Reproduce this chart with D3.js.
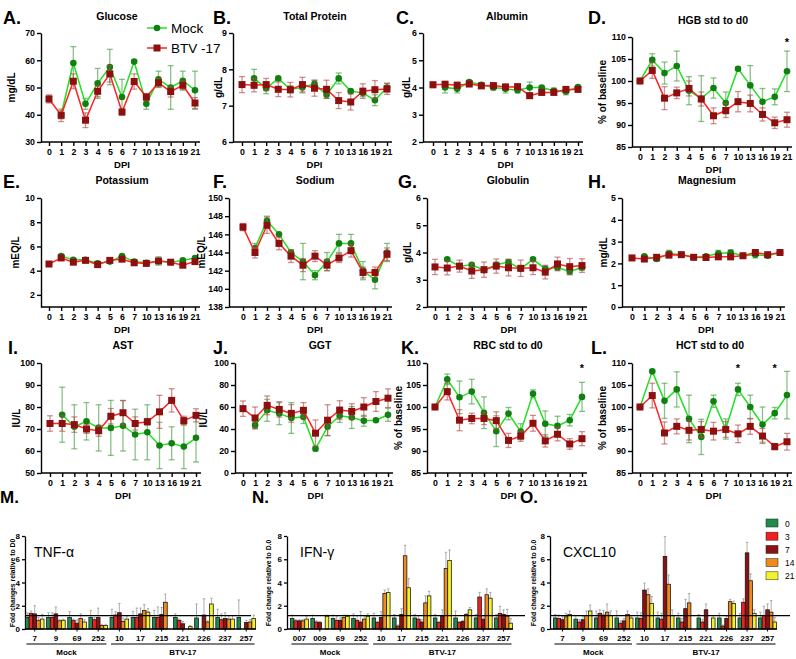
<!DOCTYPE html>
<html>
<head>
<meta charset="utf-8">
<script src="https://cdnjs.cloudflare.com/ajax/libs/d3/7.8.5/d3.min.js"></script>
<style>
body { margin: 0; background: #fff; }
svg text { font-family: "Liberation Sans", Arial, sans-serif; }
</style>
</head>
<body>
<div id="chart"></div>
<script>
// ---- data: blood chemistry, days post infection ----
var days = ["0", "1", "2", "3", "4", "5", "6", "7", "10", "13", "16", "19", "21"];

var glucoseMock = [null, 40.0, 59.0, 44.0, 51.5, 57.5, 46.5, 59.5, 44.0, 53.0, 50.0, 52.5, 49.0];
var glucoseMockErr = [null, 1.5, 6.0, 2.0, 5.5, 6.5, 6.5, 0.5, 2.0, 3.0, 8.0, 3.5, 7.0];
var glucoseBtv = [45.8, 39.8, 52.3, 38.0, 48.6, 55.0, 41.0, 52.2, 46.5, 51.7, 48.5, 50.8, 44.3];
var glucoseBtvErr = [1.5, 2.3, 2.7, 2.7, 2.0, 3.0, 1.0, 2.8, 1.3, 1.5, 2.0, 1.5, 2.0];

var tpMock = [null, 7.75, 7.48, 7.75, 7.45, 7.5, 7.6, 7.3, 7.75, 7.4, 7.35, 7.15, 7.5];
var tpMockErr = [null, 0.25, 0.15, 0.03, 0.1, 0.15, 0.1, 0.1, 0.15, 0.03, 0.1, 0.15, 0.12];
var tpBtv = [7.58, 7.56, 7.58, 7.45, 7.44, 7.58, 7.48, 7.45, 7.14, 7.1, 7.4, 7.44, 7.46];
var tpBtvErr = [0.22, 0.18, 0.17, 0.2, 0.2, 0.2, 0.22, 0.25, 0.22, 0.22, 0.2, 0.25, 0.15];

var albMock = [null, 4.0, 3.95, 4.2, 4.1, 4.0, 3.95, 3.9, 4.0, 4.0, 3.88, 3.85, 4.02];
var albMockErr = [null, 0.2, 0.15, 0.05, 0.05, 0.1, 0.15, 0.1, 0.2, 0.05, 0.1, 0.12, 0.05];
var albBtv = [4.1, 4.12, 4.08, 4.13, 4.06, 4.07, 4.02, 4.03, 3.7, 3.82, 3.82, 3.93, 3.93];
var albBtvErr = [0.1, 0.1, 0.12, 0.1, 0.07, 0.08, 0.1, 0.1, 0.05, 0.1, 0.08, 0.08, 0.08];

var hgbMock = [100, 104.8, 101.8, 103.4, 97.8, 96.0, 98.4, 95.0, 102.8, 99.0, 95.3, 96.4, 102.2];
var hgbMockErr = [0, 1.4, 2.5, 3.4, 3.2, 5.2, 2.3, 2.5, 0.3, 4.5, 3.0, 1.8, 4.6];
var hgbBtv = [100, 102.4, 96.1, 97.3, 98.3, 95.9, 92.1, 93.3, 95.3, 94.9, 92.4, 90.5, 91.2];
var hgbBtvErr = [0, 1.8, 2.6, 1.3, 1.7, 1.6, 1.8, 1.6, 2.3, 1.9, 1.5, 1.3, 1.7];
var hgbStars = ["21"];

var kMock = [null, 5.2, 4.9, 4.9, 4.6, 4.75, 5.2, 4.75, 4.65, 4.8, 4.7, 4.85, 5.05];
var kMockErr = [null, 0.1, 0.1, 0.1, 0.15, 0.1, 0.1, 0.15, 0.05, 0.35, 0.1, 0.1, 0.1];
var kBtv = [4.55, 5.05, 4.7, 4.85, 4.5, 4.85, 4.95, 4.65, 4.6, 4.8, 4.7, 4.45, 4.75];
var kBtvErr = [0.1, 0.15, 0.15, 0.15, 0.15, 0.1, 0.15, 0.15, 0.1, 0.15, 0.1, 0.15, 0.15];

var naMock = [null, 144.5, 147.5, 146.0, 144.0, 143.0, 141.5, 143.0, 145.0, 145.0, 142.0, 141.0, 144.0];
var naMockErr = [null, 0.5, 0.5, 0.1, 0.3, 2.0, 0.5, 1.0, 1.0, 1.0, 1.0, 1.0, 1.0];
var naBtv = [146.8, 144.0, 147.0, 145.0, 143.6, 142.6, 143.6, 142.6, 143.4, 144.2, 141.8, 141.8, 143.8];
var naBtvErr = [0.4, 0.6, 0.9, 0.7, 0.7, 0.7, 0.6, 0.6, 0.5, 0.7, 0.6, 0.6, 0.7];

var globMock = [null, 3.75, 3.5, 3.55, 3.35, 3.55, 3.65, 3.4, 3.75, 3.4, 3.45, 3.3, 3.45];
var globMockErr = [null, 0.05, 0.05, 0.05, 0.05, 0.1, 0.1, 0.05, 0.05, 0.1, 0.1, 0.1, 0.1];
var globBtv = [3.47, 3.43, 3.5, 3.32, 3.37, 3.5, 3.44, 3.42, 3.44, 3.28, 3.58, 3.48, 3.52];
var globBtvErr = [0.28, 0.25, 0.22, 0.27, 0.28, 0.26, 0.3, 0.3, 0.25, 0.25, 0.25, 0.3, 0.25];

var mgMock = [null, 2.32, 2.2, 2.45, 2.4, 2.28, 2.33, 2.45, 2.5, 2.35, 2.4, 2.35, 2.5];
var mgMockErr = [null, 0.05, 0.1, 0.15, 0.08, 0.05, 0.05, 0.15, 0.12, 0.05, 0.15, 0.08, 0.05];
var mgBtv = [2.25, 2.2, 2.28, 2.38, 2.4, 2.28, 2.27, 2.3, 2.3, 2.35, 2.5, 2.4, 2.5];
var mgBtvErr = [0.05, 0.05, 0.1, 0.08, 0.05, 0.05, 0.08, 0.1, 0.1, 0.05, 0.05, 0.05, 0.05];

var astMock = [null, 76.5, 71.0, 73.5, 70.5, 70.5, 71.5, 67.5, 68.5, 62.5, 63.5, 62.0, 66.0];
var astMockErr = [null, 12.5, 10.0, 8.5, 10.5, 12.5, 11.5, 11.5, 12.5, 10.5, 7.5, 10.0, 11.0];
var astBtv = [72.5, 72.5, 72.0, 70.0, 69.2, 75.8, 77.4, 72.5, 73.3, 77.8, 83.0, 73.8, 76.2];
var astBtvErr = [3.5, 3.5, 3.5, 2.0, 2.5, 3.5, 5.5, 3.0, 1.5, 7.5, 5.3, 2.0, 3.0];

var ggtMock = [null, 43.5, 57.0, 54.0, 50.0, 51.0, 22.0, 42.0, 52.0, 50.5, 47.5, 48.0, 53.0];
var ggtMockErr = [null, 3.0, 10.0, 10.0, 14.0, 6.0, 2.0, 8.0, 6.0, 10.0, 5.0, 1.0, 6.0];
var ggtBtv = [58.5, 50.0, 61.5, 57.8, 54.2, 57.0, 36.2, 48.0, 57.2, 56.0, 60.0, 65.0, 68.0];
var ggtBtvErr = [7.0, 10.0, 8.5, 7.0, 8.0, 7.0, 12.0, 14.0, 8.5, 7.0, 8.5, 9.0, 8.5];

var rbcMock = [100, 106.3, 102.2, 103.5, 98.7, 94.5, 98.5, 94.4, 103.0, 96.2, 95.7, 97.0, 102.3];
var rbcMockErr = [0, 1.2, 3.7, 2.8, 3.6, 3.5, 1.4, 1.8, 0.9, 2.9, 2.2, 1.3, 3.3];
var rbcBtv = [100, 103.5, 97.0, 97.4, 97.4, 96.9, 92.4, 93.4, 96.3, 92.3, 93.8, 91.6, 92.8];
var rbcBtvErr = [0, 1.9, 2.4, 1.2, 1.4, 2.0, 1.6, 1.2, 1.8, 1.4, 1.5, 1.2, 1.6];
var rbcStars = ["21"];

var hctMock = [100, 108.1, 101.4, 104.0, 97.3, 93.2, 101.3, 95.0, 104.0, 100.0, 96.0, 98.6, 102.7];
var hctMockErr = [0, 0.3, 4.0, 4.0, 5.4, 4.0, 1.4, 2.3, 1.4, 2.7, 4.0, 1.3, 5.4];
var hctBtv = [100, 102.6, 94.1, 95.6, 94.7, 94.9, 94.5, 94.9, 93.9, 95.6, 93.4, 91.0, 92.1];
var hctBtvErr = [0, 2.8, 2.5, 1.7, 2.2, 1.8, 2.0, 1.8, 2.0, 1.8, 1.7, 0.7, 1.9];
var hctStars = ["10", "19"];

// ---- data: cytokine fold changes per animal, bars = DPI 0,3,7,14,21 ----
var dpiLevels = ["0", "3", "7", "14", "21"];
var animals = ["7", "9", "69", "252", "10", "17", "215", "221", "226", "237", "257"];
var animalsIfn = ["007", "009", "69", "252", "10", "17", "215", "221", "226", "237", "257"];

var tnfVals = [
  [1.0, 1.35, 1.3, 0.75, 0.85], [1.0, 1.0, 1.3, 0.7, 0.75], [1.0, 0.75, 0.5, 0.9, 0.6],
  [1.0, 0.8, 1.0, 0.3, 0.3], [1.0, 1.2, 1.4, 0.65, 0.85], [1.0, 1.0, 1.3, 1.6, 1.45],
  [1.0, 1.0, 1.25, 2.3, null], [1.0, 0.75, 0.45, null, 0.2], [0.95, null, 1.2, 0.6, 2.15],
  [1.0, 0.8, 0.9, 0.85, 0.85], [1.0, null, 0.55, 0.6, 0.9]];
var tnfErr = [
  [0.4, 0.2, 0.7, 0.25, 0.4], [0.4, 0.4, 0.6, 0.1, 0.1], [0.5, 0.1, 0.3, 0.4, 0.2],
  [0.6, 0.2, 0.8, 0.1, 0.1], [0.7, 0.3, 0.8, 0.3, 0.2], [0.5, 0.8, 0.5, 0.5, 0.3],
  [0.6, 0.9, 0.6, 0.7, 0], [0.3, 0.1, 0.2, 0, 0.1], [1.2, 0, 1.4, 0.1, 0.5],
  [0.7, 0.5, 0.5, 0.3, 0.3], [1.5, 0, 0.2, 0.2, 0.3]];

var ifnVals = [
  [0.9, 0.7, 0.7, 0.7, 0.85], [0.9, 0.6, 0.55, null, 1.1], [0.9, 0.75, 0.75, 1.0, 1.1],
  [0.9, 0.75, 0.6, 0.85, 1.1], [0.95, 0.55, 1.0, 3.05, 3.15], [0.95, 0.25, 1.25, 6.3, 3.55],
  [0.95, 0.85, 0.6, 2.25, 2.85], [0.95, 0.55, 1.15, 5.2, 5.9], [0.95, 0.55, 0.65, 1.25, 1.65],
  [0.95, 2.75, 0.85, 2.95, 2.65], [0.95, 1.35, 1.25, 1.1, 0.5]];
var ifnErr = [
  [0.3, 0.1, 0.1, 0.1, 0.2], [0.3, 0.1, 0.1, 0, 0.1], [0.3, 0.3, 0.2, 0.2, 0.1],
  [0.4, 0.4, 0.9, 0.3, 0.2], [0.4, 0.1, 0.5, 0.3, 0.3], [0.3, 0.1, 0.5, 0.9, 0.8],
  [0.3, 0.3, 0.2, 0.6, 0.4], [0.3, 0.1, 0.5, 1.4, 0.9], [0.6, 0.1, 0.1, 0.1, 0.2],
  [0.3, 0.4, 0.3, 0.5, 0.5], [0.3, 0.6, 0.4, 0.6, 0.4]];

var cxclVals = [
  [0.95, 0.9, 0.8, 1.05, 1.25], [0.85, 0.6, 0.8, 1.15, 1.55], [0.95, 1.35, 1.2, 1.45, 1.15],
  [0.95, 0.5, 0.7, 1.25, 0.95], [0.95, 0.9, 3.35, 2.95, 2.2], [0.95, 0.85, 6.25, 3.85, 1.15],
  [0.95, 0.6, 1.75, 2.25, null], [0.95, 0.6, 1.65, null, 0.95], [0.95, 0.25, 0.9, 2.35, 2.2],
  [0.95, 2.3, 6.55, 4.15, 1.35], [0.95, 1.15, 1.65, 1.45, 0.6]];
var cxclErr = [
  [0.3, 0.3, 0.3, 0.3, 0.3], [0.3, 0.2, 0.3, 0.4, 0.5], [0.6, 0.3, 0.4, 0.7, 0.4],
  [0.6, 0.2, 0.2, 0.3, 0.2], [0.5, 0.5, 0.6, 0.5, 0.6], [0.5, 0.5, 1.7, 0.8, 0.5],
  [0.4, 0.3, 0.8, 0.8, 0], [0.3, 0.2, 0.5, 0, 0.2], [0.4, 0.1, 0.2, 0.2, 0.2],
  [0.4, 0.3, 0.9, 0.6, 0.3], [0.5, 0.8, 0.5, 1.0, 0.4]];

var refLevel = 1.15;
var dpiColors = ["#1f8c4e", "#f02020", "#8a1212", "#f08a1c", "#f2f22a"];

// ---- canvas ----
var W = 796, H = 659;
var svg = d3.select("#chart").append("svg").attr("width", W).attr("height", H);

var mockLine = "#22e022", mockMark = "#118011", mockErr = "#3c9a3c";
var btvLine = "#ff2222", btvMark = "#8c1010", btvErr = "#b04848";
var fmt = function (d) { return String(d); };

function linePanel(p) {
  var g = svg.append("g");
  var x = d3.scalePoint().domain(days).range([p.x0, p.x1]);
  var y = d3.scaleLinear().domain(p.dom).range([p.bot, p.top]);

  var ya = g.append("g").attr("transform", "translate(" + p.ax + ",0)")
    .call(d3.axisLeft(y).tickValues(p.ticks).tickFormat(fmt).tickSize(4).tickSizeOuter(0).tickPadding(2));
  var xa = g.append("g").attr("transform", "translate(0," + p.bot + ")")
    .call(d3.axisBottom(x).tickSize(4).tickSizeOuter(0).tickPadding(3));
  xa.select(".domain").remove();
  xa.append("line").attr("x1", p.ax).attr("x2", p.x1 + 5).attr("stroke", "#000");
  [ya, xa].forEach(function (a) {
    a.selectAll("path, line").attr("stroke", "#000").attr("stroke-width", 1.4);
    a.selectAll("text").attr("font-size", 8.8).attr("font-weight", "bold").attr("fill", "#000");
  });

  g.append("text").attr("x", p.tx).attr("y", p.ty).attr("text-anchor", "middle")
    .attr("font-size", 10.5).attr("font-weight", "bold").text(p.title);
  g.append("text").attr("x", p.lx).attr("y", p.ly).attr("font-size", 18)
    .attr("font-weight", "bold").text(p.letter);
  g.append("text").attr("transform", "translate(" + p.yx + "," + ((p.top + p.bot) / 2) + ") rotate(-90)")
    .attr("text-anchor", "middle").attr("font-size", 10).attr("font-weight", "bold").text(p.ylab);
  g.append("text").attr("x", (p.x0 + p.x1) / 2).attr("y", p.bot + 26).attr("text-anchor", "middle")
    .attr("font-size", 9.5).attr("font-weight", "bold").text("DPI");

  function series(vals, errs, lc, mc, ec, square) {
    var pts = days.map(function (d, i) { return { d: d, v: vals[i], e: errs[i] }; })
      .filter(function (o) { return o.v != null; });
    var eg = g.append("g").attr("stroke", ec).attr("stroke-opacity", 0.6).attr("stroke-width", 1.3);
    pts.forEach(function (o) {
      if (!o.e) return;
      var cx = x(o.d), y1 = y(o.v - o.e), y2 = y(o.v + o.e);
      eg.append("line").attr("x1", cx).attr("x2", cx).attr("y1", y1).attr("y2", y2);
      eg.append("line").attr("x1", cx - 3).attr("x2", cx + 3).attr("y1", y1).attr("y2", y1);
      eg.append("line").attr("x1", cx - 3).attr("x2", cx + 3).attr("y1", y2).attr("y2", y2);
    });
    g.append("path").datum(pts)
      .attr("d", d3.line().x(function (o) { return x(o.d); }).y(function (o) { return y(o.v); }))
      .attr("fill", "none").attr("stroke", lc).attr("stroke-width", 1.5);
    if (square) {
      g.selectAll(null).data(pts).enter().append("rect")
        .attr("x", function (o) { return x(o.d) - 3.5; }).attr("y", function (o) { return y(o.v) - 3.5; })
        .attr("width", 7).attr("height", 7).attr("fill", mc);
    } else {
      g.selectAll(null).data(pts).enter().append("circle")
        .attr("cx", function (o) { return x(o.d); }).attr("cy", function (o) { return y(o.v); })
        .attr("r", 3.3).attr("fill", mc);
    }
  }
  series(p.mock, p.mockErr, mockLine, mockMark, mockErr, false);
  series(p.btv, p.btvErr, btvLine, btvMark, btvErr, true);

  (p.stars || []).forEach(function (d) {
    g.append("text").attr("x", x(d)).attr("y", y(p.starAt)).attr("text-anchor", "middle")
      .attr("font-size", 11).attr("font-weight", "bold").text("*");
  });
}

function rng(a, b, s) { return d3.range(a, b + s / 2, s); }

var row1 = { top: 33, bot: 142, ty: 20, ly: 24 };
var row2 = { top: 198, bot: 307, ty: 184, ly: 188 };
var row3 = { top: 363, bot: 473, ty: 349, ly: 354 };

linePanel({ letter: "A.", title: "Glucose", ylab: "mg/dL", dom: [30, 70], ticks: rng(30, 70, 10),
  ax: 41, x0: 49, x1: 195, top: row1.top, bot: row1.bot, tx: 117, ty: row1.ty, lx: 3, ly: row1.ly, yx: 15,
  mock: glucoseMock, mockErr: glucoseMockErr, btv: glucoseBtv, btvErr: glucoseBtvErr });
linePanel({ letter: "B.", title: "Total Protein", ylab: "g/dL", dom: [6, 9], ticks: rng(6, 9, 1),
  ax: 233, x0: 242, x1: 387, top: row1.top, bot: row1.bot, tx: 315, ty: row1.ty, lx: 213, ly: row1.ly, yx: 222,
  mock: tpMock, mockErr: tpMockErr, btv: tpBtv, btvErr: tpBtvErr });
linePanel({ letter: "C.", title: "Albumin", ylab: "g/dL", dom: [2, 6], ticks: rng(2, 6, 1),
  ax: 423, x0: 433, x1: 578, top: row1.top, bot: row1.bot, tx: 507, ty: row1.ty, lx: 396, ly: row1.ly, yx: 410,
  mock: albMock, mockErr: albMockErr, btv: albBtv, btvErr: albBtvErr });
linePanel({ letter: "D.", title: "HGB std to d0", ylab: "% of baseline", dom: [85, 110], ticks: rng(85, 110, 5),
  ax: 632, x0: 640, x1: 787, top: 37, bot: 147, tx: 713, ty: 24, lx: 588, ly: row1.ly, yx: 606,
  mock: hgbMock, mockErr: hgbMockErr, btv: hgbBtv, btvErr: hgbBtvErr, stars: hgbStars, starAt: 108 });

linePanel({ letter: "E.", title: "Potassium", ylab: "mEQ/L", dom: [1, 10], ticks: rng(2, 10, 2),
  ax: 41, x0: 49, x1: 195, top: row2.top, bot: row2.bot, tx: 122, ty: row2.ty, lx: 3, ly: row2.ly, yx: 19,
  mock: kMock, mockErr: kMockErr, btv: kBtv, btvErr: kBtvErr });
linePanel({ letter: "F.", title: "Sodium", ylab: "mEQ/L", dom: [138, 150], ticks: rng(138, 150, 2),
  ax: 229, x0: 243, x1: 387, top: row2.top, bot: row2.bot, tx: 315, ty: row2.ty, lx: 213, ly: row2.ly, yx: 205,
  mock: naMock, mockErr: naMockErr, btv: naBtv, btvErr: naBtvErr });
linePanel({ letter: "G.", title: "Globulin", ylab: "g/dL", dom: [2, 6], ticks: rng(2, 6, 1),
  ax: 427, x0: 435, x1: 582, top: row2.top, bot: row2.bot, tx: 508, ty: row2.ty, lx: 398, ly: row2.ly, yx: 411,
  mock: globMock, mockErr: globMockErr, btv: globBtv, btvErr: globBtvErr });
linePanel({ letter: "H.", title: "Magnesium", ylab: "mg/dL", dom: [0, 5], ticks: rng(0, 5, 1),
  ax: 622, x0: 632, x1: 780, top: row2.top, bot: row2.bot, tx: 707, ty: row2.ty, lx: 588, ly: row2.ly, yx: 607,
  mock: mgMock, mockErr: mgMockErr, btv: mgBtv, btvErr: mgBtvErr });

linePanel({ letter: "I.", title: "AST", ylab: "IU/L", dom: [50, 100], ticks: rng(50, 100, 10),
  ax: 41, x0: 50, x1: 196, top: row3.top, bot: row3.bot, tx: 123, ty: row3.ty, lx: 8, ly: row3.ly, yx: 20,
  mock: astMock, mockErr: astMockErr, btv: astBtv, btvErr: astBtvErr });
linePanel({ letter: "J.", title: "GGT", ylab: "IU/L", dom: [0, 100], ticks: rng(0, 100, 20),
  ax: 235, x0: 243, x1: 388, top: row3.top, bot: row3.bot, tx: 320, ty: row3.ty, lx: 213, ly: row3.ly, yx: 207,
  mock: ggtMock, mockErr: ggtMockErr, btv: ggtBtv, btvErr: ggtBtvErr });
linePanel({ letter: "K.", title: "RBC std to d0", ylab: "% of baseline", dom: [85, 110], ticks: rng(85, 110, 5),
  ax: 427, x0: 435, x1: 582, top: row3.top, bot: row3.bot, tx: 508, ty: row3.ty, lx: 401, ly: row3.ly, yx: 402,
  mock: rbcMock, mockErr: rbcMockErr, btv: rbcBtv, btvErr: rbcBtvErr, stars: rbcStars, starAt: 108 });
linePanel({ letter: "L.", title: "HCT std to d0", ylab: "% of baseline", dom: [85, 110], ticks: rng(85, 110, 5),
  ax: 632, x0: 640, x1: 787, top: row3.top, bot: row3.bot, tx: 710, ty: row3.ty, lx: 591, ly: row3.ly, yx: 606,
  mock: hctMock, mockErr: hctMockErr, btv: hctBtv, btvErr: hctBtvErr, stars: hctStars, starAt: 108 });

// legend in panel A
var leg = svg.append("g");
[["Mock", mockLine, mockMark, false, 28], ["BTV -17", btvLine, btvMark, true, 48]].forEach(function (l) {
  leg.append("line").attr("x1", 147).attr("x2", 167).attr("y1", l[4]).attr("y2", l[4])
    .attr("stroke", l[1]).attr("stroke-width", 1.5);
  if (l[3]) leg.append("rect").attr("x", 153.5).attr("y", l[4] - 3.5).attr("width", 7).attr("height", 7).attr("fill", l[2]);
  else leg.append("circle").attr("cx", 157).attr("cy", l[4]).attr("r", 3.3).attr("fill", l[2]);
  leg.append("text").attr("x", 171).attr("y", l[4] + 5).attr("font-size", 13.5).text(l[0]);
});

// ---- cytokine bar panels ----
function barPanel(p) {
  var g = svg.append("g");
  var x = d3.scaleBand().domain(p.groups).range([p.x0, p.x1]).paddingInner(0.12).paddingOuter(0.02);
  var xi = d3.scaleBand().domain(dpiLevels).range([0, x.bandwidth()]);
  var y = d3.scaleLinear().domain([0, 8]).range([629, 536]);

  var ya = g.append("g").attr("transform", "translate(" + p.ax + ",0)")
    .call(d3.axisLeft(y).tickValues([0, 2, 4, 6, 8]).tickSize(3).tickSizeOuter(0).tickPadding(2));
  ya.selectAll("path, line").attr("stroke", "#000").attr("stroke-width", 1.3);
  ya.selectAll("text").attr("font-size", 8).attr("font-weight", "bold");

  p.groups.forEach(function (gr, i) {
    dpiLevels.forEach(function (d, j) {
      var v = p.vals[i][j];
      if (v == null) return;
      var bx = x(gr) + xi(d), bw = xi.bandwidth();
      var e = p.errs[i][j];
      if (e) {
        var cx = bx + bw / 2;
        g.append("line").attr("x1", cx).attr("x2", cx).attr("y1", y(v)).attr("y2", y(v + e))
          .attr("stroke", "#999").attr("stroke-width", 0.8);
        g.append("line").attr("x1", cx - 1.2).attr("x2", cx + 1.2).attr("y1", y(v + e)).attr("y2", y(v + e))
          .attr("stroke", "#999").attr("stroke-width", 0.8);
      }
      g.append("rect").attr("x", bx).attr("y", y(v)).attr("width", bw).attr("height", y(0) - y(v))
        .attr("fill", dpiColors[j]).attr("stroke", "#111").attr("stroke-width", 0.75);
    });
  });

  // baseline and group ticks
  g.append("line").attr("x1", p.ax).attr("x2", p.x1).attr("y1", y(0)).attr("y2", y(0))
    .attr("stroke", "#000").attr("stroke-width", 1.3);
  p.groups.forEach(function (gr) {
    var cx = x(gr) + x.bandwidth() / 2;
    g.append("line").attr("x1", cx).attr("x2", cx).attr("y1", y(0)).attr("y2", y(0) + 2.5)
      .attr("stroke", "#000").attr("stroke-width", 1);
    g.append("text").attr("x", cx).attr("y", 641).attr("text-anchor", "middle")
      .attr("font-size", 8).attr("font-weight", "bold").text(gr);
  });
  // reference line
  g.append("line").attr("x1", p.ax).attr("x2", p.refEnd).attr("y1", y(refLevel)).attr("y2", y(refLevel))
    .attr("stroke", "#000").attr("stroke-width", 1.2);

  // group brackets
  [[0, 3, "Mock"], [4, 10, "BTV-17"]].forEach(function (b) {
    var a = x(p.groups[b[0]]) + 1, z = x(p.groups[b[1]]) + x.bandwidth() - 1;
    g.append("line").attr("x1", a).attr("x2", z).attr("y1", 644).attr("y2", 644)
      .attr("stroke", "#000").attr("stroke-width", 1.2);
    g.append("text").attr("x", (a + z) / 2).attr("y", 655).attr("text-anchor", "middle")
      .attr("font-size", 8).attr("font-weight", "bold").text(b[2]);
  });

  g.append("text").attr("x", p.tx).attr("y", 557).attr("font-size", 14).text(p.title);
  g.append("text").attr("x", p.lx).attr("y", 503).attr("font-size", 17).attr("font-weight", "bold").text(p.letter);
  g.append("text").attr("transform", "translate(" + p.yx + ",583) rotate(-90)")
    .attr("text-anchor", "middle").attr("font-size", 6.8).attr("font-weight", "bold").text(p.ylab);
}

barPanel({ letter: "M.", title: "TNF-α", ylab: "Fold changes relative to D0", groups: animals,
  vals: tnfVals, errs: tnfErr, ax: 25, x0: 25, x1: 256, refEnd: 251, tx: 34, lx: 0, yx: 15 });
barPanel({ letter: "N.", title: "IFN-γ", ylab: "Fold change relative to D.0", groups: animalsIfn,
  vals: ifnVals, errs: ifnErr, ax: 287, x0: 290, x1: 513, refEnd: 525, tx: 300, lx: 252, yx: 271 });
barPanel({ letter: "O.", title: "CXCL10", ylab: "Fold change relative to D.0", groups: animals,
  vals: cxclVals, errs: cxclErr, ax: 550, x0: 553, x1: 777, refEnd: 790, tx: 563, lx: 520, yx: 536 });

// DPI colour legend
var bl = svg.append("g");
dpiLevels.forEach(function (d, i) {
  var yy = 519 + i * 13.2;
  bl.append("rect").attr("x", 766).attr("y", yy).attr("width", 12).attr("height", 8)
    .attr("fill", dpiColors[i]).attr("stroke", "#222").attr("stroke-width", 0.5);
  bl.append("text").attr("x", 785).attr("y", yy + 7.5).attr("font-size", 8.5).text(d);
});
</script>
</body>
</html>
